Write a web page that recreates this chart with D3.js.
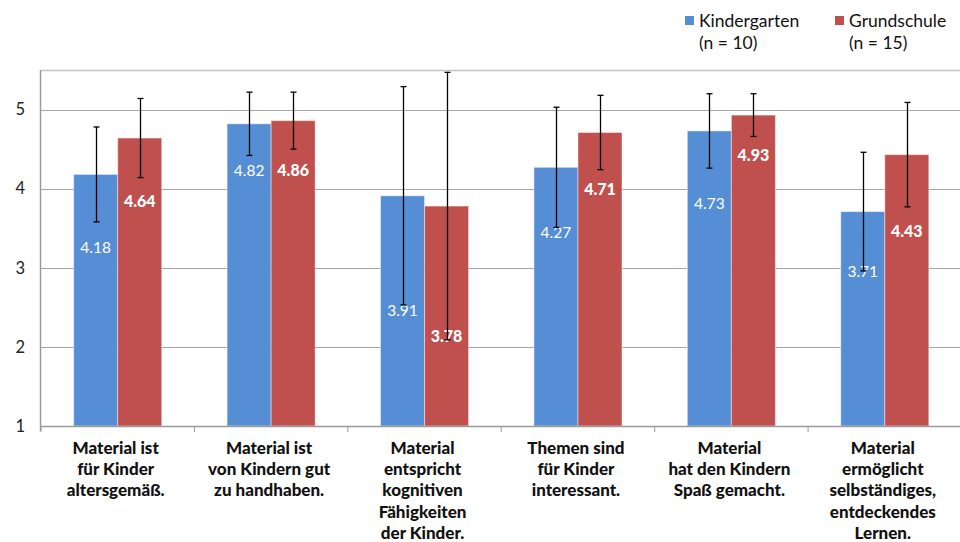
<!DOCTYPE html>
<html>
<head>
<meta charset="utf-8">
<script src="https://cdn.jsdelivr.net/npm/d3@7/dist/d3.min.js"></script>
<style>
  html, body { margin: 0; padding: 0; background: #fff; }
  svg { display: block; font-family: Lato, "Open Sans", sans-serif; }
</style>
</head>
<body>
<svg id="chart" width="960" height="542"></svg>
<script>
// ---- data ----
const categories = [
  ["Material ist", "für Kinder", "altersgemäß."],
  ["Material ist", "von Kindern gut", "zu handhaben."],
  ["Material", "entspricht", "kognitiven", "Fähigkeiten", "der Kinder."],
  ["Themen sind", "für Kinder", "interessant."],
  ["Material", "hat den Kindern", "Spaß gemacht."],
  ["Material", "ermöglicht", "selbständiges,", "entdeckendes", "Lernen."]
];
const seriesNames = ["Kindergarten", "Grundschule"];
const seriesN = ["(n = 10)", "(n = 15)"];
const kindergarten = [4.18, 4.82, 3.91, 4.27, 4.73, 3.71];
const grundschule  = [4.64, 4.86, 3.78, 4.71, 4.93, 4.43];
const kindergartenSD = [0.60, 0.40, 1.38, 0.76, 0.47, 0.75];
const grundschuleSD  = [0.50, 0.36, 1.69, 0.47, 0.27, 0.66];
// where each value label sits, in axis units
const kindergartenLabelAt = [3.26, 4.23, 2.46, 3.44, 3.81, 2.95];
const grundschuleLabelAt  = [3.84, 4.23, 2.13, 3.99, 4.42, 3.46];
const yTicks = [1, 2, 3, 4, 5];

// ---- layout ----
const svg = d3.select("#chart");
const pLeft = 41, pRight = 961.5, pTop = 70, pBottom = 426;
const colors = ["#558ED5", "#C0504D"];

const y = d3.scaleLinear().domain([1, 5.5]).range([pBottom, pTop]);
const x0 = d3.scaleBand().domain(d3.range(categories.length))
  .range([pLeft, pRight]).paddingInner(0.426).paddingOuter(0.213);
const x1 = d3.scaleBand().domain([0, 1]).range([0, x0.bandwidth()]);

// top border
svg.append("line").attr("x1", pLeft).attr("x2", pRight).attr("y1", pTop + 0.5).attr("y2", pTop + 0.5)
  .attr("stroke", "#c3c3c3").attr("stroke-width", 1.5);

// gridlines
svg.append("g").selectAll("line").data(yTicks.filter(t => t > 1)).join("line")
  .attr("x1", pLeft).attr("x2", pRight)
  .attr("y1", d => Math.round(y(d)) + 0.5).attr("y2", d => Math.round(y(d)) + 0.5)
  .attr("stroke", "#a6a6a6").attr("stroke-width", 1.2);

// y axis labels
const yAxis = d3.axisLeft(y).tickValues(yTicks).tickSize(0).tickPadding(16).tickFormat(d3.format("d"));
const gy = svg.append("g").attr("transform", `translate(${pLeft},0)`).call(yAxis);
gy.select(".domain").remove();
gy.selectAll("text").attr("font-size", 16.5).attr("fill", "#222").attr("font-family", "Lato, sans-serif");

// bars
const series = [
  { vals: kindergarten, sd: kindergartenSD, lab: kindergartenLabelAt },
  { vals: grundschule, sd: grundschuleSD, lab: grundschuleLabelAt }
];
const rows = [];
series.forEach((s, si) => s.vals.forEach((v, ci) => rows.push({ si, ci, v, sd: s.sd[ci], lab: s.lab[ci] })));

const gb = svg.append("g");
gb.selectAll("rect").data(rows).join("rect")
  .attr("x", d => x0(d.ci) + x1(d.si))
  .attr("width", x1.bandwidth())
  .attr("y", d => y(d.v))
  .attr("height", d => y(1) - y(d.v))
  .attr("fill", d => colors[d.si])
  .attr("stroke", "rgba(255,255,255,0.45)")
  .attr("stroke-width", 1);

// axes lines
svg.append("line").attr("x1", pLeft - 0.5).attr("x2", pLeft - 0.5).attr("y1", pTop).attr("y2", pBottom + 5)
  .attr("stroke", "#9a9a9a").attr("stroke-width", 1.5);
svg.append("line").attr("x1", pLeft).attr("x2", pRight).attr("y1", pBottom + 0.5).attr("y2", pBottom + 0.5)
  .attr("stroke", "#9a9a9a").attr("stroke-width", 1.5);
// category tick marks
svg.append("g").selectAll("line").data(d3.range(categories.length + 1)).join("line")
  .attr("x1", i => pLeft + i * x0.step()).attr("x2", i => pLeft + i * x0.step())
  .attr("y1", pBottom).attr("y2", pBottom + 6)
  .attr("stroke", "#9a9a9a").attr("stroke-width", 1);

// value labels
gb.selectAll("text.val").data(rows).join("text").attr("class", "val")
  .attr("x", d => x0(d.ci) + x1(d.si) + x1.bandwidth() / 2)
  .attr("y", d => y(d.lab))
  .attr("dy", "0.35em")
  .attr("text-anchor", "middle")
  .attr("fill", "#fff")
  .attr("font-size", d => d.si === 1 ? 16 : 15.5)
  .attr("font-weight", d => d.si === 1 ? 900 : "normal")
  .text(d => d3.format(".2f")(d.v));

// error bars
const ge = svg.append("g").attr("stroke", "#000").attr("stroke-width", 1.3);
rows.forEach(d => {
  const cx = Math.round(x0(d.ci) + x1(d.si) + x1.bandwidth() / 2) + 0.5;
  const y1 = y(d.v + d.sd), y2 = y(d.v - d.sd);
  ge.append("line").attr("x1", cx).attr("x2", cx).attr("y1", y1).attr("y2", y2);
  ge.append("line").attr("x1", cx - 3).attr("x2", cx + 3).attr("y1", y1).attr("y2", y1);
  ge.append("line").attr("x1", cx - 3).attr("x2", cx + 3).attr("y1", y2).attr("y2", y2);
});

// category labels
const gc = svg.append("g");
categories.forEach((lines, ci) => {
  const t = gc.append("text")
    .attr("x", x0(ci) + x0.bandwidth() / 2)
    .attr("y", 448)
    .attr("text-anchor", "middle")
    .attr("font-size", 17)
    .attr("font-weight", 900)
    .attr("fill", "#111");
  lines.forEach((ln, li) => t.append("tspan")
    .attr("x", x0(ci) + x0.bandwidth() / 2 - 2)
    .attr("y", 448 + li * 21.2)
    .attr("dy", "0.35em")
    .text(ln));
});

// legend
const lg = svg.append("g");
const legX = [685, 835];
seriesNames.forEach((name, i) => {
  lg.append("rect").attr("x", legX[i]).attr("y", 16).attr("width", 9).attr("height", 9).attr("fill", colors[i]);
  lg.append("text").attr("x", legX[i] + 14).attr("y", 21).attr("dy", "0.35em")
    .attr("font-size", 17.5).attr("fill", "#111").text(name);
  lg.append("text").attr("x", legX[i] + 14).attr("y", 43).attr("dy", "0.35em")
    .attr("font-size", 17.5).attr("fill", "#111").text(seriesN[i]);
});
</script>
</body>
</html>
